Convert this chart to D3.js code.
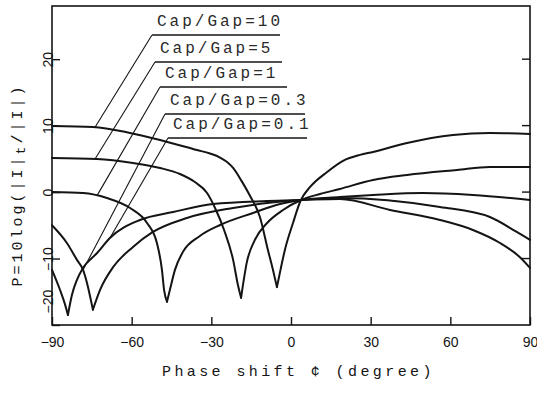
<!DOCTYPE html>
<html>
<head>
<meta charset="utf-8">
<script src="https://cdn.jsdelivr.net/npm/d3@7"></script>
<style>
  html, body { margin: 0; padding: 0; background: #fff; }
  svg { display: block; }
</style>
</head>
<body>
<svg id="chart" width="537" height="393"></svg>
<script>
// Phase shift (degree) axis ticks and level (dB) axis ticks
const phaseTicks = [-90, -60, -30, 0, 30, 60, 90];
const levelTicks = [-20, -10, 0, 10, 20];

// Curve labels, one per capacitance ratio
const ratioLabels = ["Cap/Gap=10", "Cap/Gap=5", "Cap/Gap=1", "Cap/Gap=0.3", "Cap/Gap=0.1"];

// P = 10log(|I|t/|I|) against phase shift, [phase, level]
const ratio10 = [[-90, 9.95], [-74.6, 9.8], [-60.6, 8.9], [-49.3, 7.84], [-35.4, 6.33], [-30.5, 5.8],
  [-26.7, 5.2], [-24.2, 4.55], [-21.8, 3.63], [-18.8, 1.8], [-15.4, -0.6], [-11.7, -3.75], [-8.7, -8.7],
  [-6.8, -11.7], [-5.3, -14.3], [-3.8, -11.4], [-2.3, -8.7], [0.75, -4.65], [3.6, -1.3],
  [7.2, 0.77], [13.6, 3.02], [19.6, 4.7], [26.0, 5.6], [30.9, 6.03], [43.7, 7.39], [61.0, 8.6], [74.9, 8.9], [90, 8.74]];
const ratio5 = [[-90, 5.13], [-73.1, 4.98], [-59.5, 4.38], [-49.3, 3.63], [-41.8, 2.72], [-36.2, 1.51],
  [-31.6, -0.14], [-28.6, -2.39], [-25.2, -5.7], [-21.8, -10.2], [-20.0, -13.95], [-18.8, -15.9],
  [-16.6, -10.5], [-13.6, -7.2], [-9.0, -4.65], [-3.0, -2.69], [3.8, -1.19], [10.9, -0.29],
  [18.4, 0.47], [30.9, 1.82], [43.7, 2.57], [62.5, 3.33], [74.9, 3.78], [90, 3.78]];
const ratio1 = [[-90, 0.02], [-78.3, -0.14], [-69.3, -0.89], [-60.6, -2.39], [-54.2, -4.65], [-50.5, -7.66],
  [-48.6, -11.7], [-47.8, -14.7], [-46.7, -16.5], [-45.6, -14.7], [-43.7, -11.7], [-40.7, -9.0],
  [-34.3, -6.6], [-26.7, -4.95], [-14.3, -3.14], [-4.1, -1.79], [3.8, -1.19], [18.4, -0.74],
  [30.9, -0.44], [49.7, -0.14], [68.5, -0.44], [90, -1.19]];
const ratio03 = [[-90, -5.0], [-84.4, -7.66], [-80.6, -10.2], [-78.3, -11.7], [-76.8, -13.7], [-74.6, -17.7],
  [-71.9, -14.7], [-67.0, -11.3], [-59.5, -8.26], [-52.0, -6.0], [-39.2, -3.9], [-21.8, -2.39],
  [-9.0, -1.64], [3.8, -1.19], [18.4, -0.89], [56.1, -2.24], [74.9, -3.75], [85.0, -6.0], [90, -7.2]];
const ratio01 = [[-90, -11.7], [-87.0, -14.7], [-85.1, -16.9], [-84.0, -18.5], [-82.5, -15.5], [-80.6, -13.2],
  [-78.3, -11.4], [-73.1, -9.2], [-68.2, -6.9], [-56.9, -4.2], [-44.4, -3.0], [-29.4, -1.79],
  [-9.0, -1.34], [3.8, -1.19], [18.4, -1.04], [37.3, -2.69], [56.1, -4.2], [68.5, -5.7],
  [78.7, -7.66], [86.2, -9.8], [90, -11.4]];

// Phase on each curve that its label's leader line points to
const leaderPhase = [-73.8, -73.8, -73.1, -78.3, -68.2];

const series = [ratio10, ratio5, ratio1, ratio03, ratio01];

const svg = d3.select("#chart");
const x = d3.scaleLinear().domain([-90, 90]).range([52, 530]);
const y = d3.scaleLinear().domain([-20, 28]).range([325, 6]);

const ink = "#141414";
const tickFont = "'Liberation Sans Narrow','Liberation Sans',Arial,sans-serif";
const monoFont = "'Liberation Mono','DejaVu Sans Mono',monospace";

// Frame
svg.append("rect")
  .attr("x", x(-90)).attr("y", y(28))
  .attr("width", x(90) - x(-90)).attr("height", y(-20) - y(28))
  .attr("fill", "none").attr("stroke", ink).attr("stroke-width", 1.6);

// Bottom axis (ticks point inward)
const xAxis = d3.axisBottom(x).tickValues(phaseTicks).tickSize(-8).tickPadding(12)
  .tickFormat(d3.format("d"));
const gx = svg.append("g").attr("transform", `translate(0,${y(-20)})`).call(xAxis);
gx.select(".domain").remove();
gx.selectAll(".tick line").attr("stroke", ink).attr("stroke-width", 1.4);
gx.selectAll(".tick text").attr("font-family", tickFont).attr("font-size", 14)
  .attr("fill", ink).text(d => d3.format("d")(d).replace("-", "\u2212"));

// Left axis (ticks inward, labels rotated)
const yAxis = d3.axisLeft(y).tickValues(levelTicks).tickSize(-8).tickFormat(d3.format("d"));
const gy = svg.append("g").attr("transform", `translate(${x(-90)},0)`).call(yAxis);
gy.select(".domain").remove();
gy.selectAll(".tick line").attr("stroke", ink).attr("stroke-width", 1.4);
gy.selectAll(".tick text")
  .attr("font-family", tickFont).attr("font-size", 14).attr("fill", ink)
  .attr("x", null).attr("dy", null)
  .attr("text-anchor", d => d === -20 ? "start" : "middle")
  .attr("transform", d => d === -20 ? "translate(-4,-12) rotate(-90)" : "translate(-4,0) rotate(-90)")
  .attr("dominant-baseline", "central")
  .text(d => d3.format("d")(d).replace("-", "\u2212"));

// Right-side inner ticks
svg.append("g").selectAll("line").data(levelTicks.filter(d => d > -20)).join("line")
  .attr("x1", x(90) - 8).attr("x2", x(90))
  .attr("y1", d => y(d)).attr("y2", d => y(d))
  .attr("stroke", ink).attr("stroke-width", 1.4);

// Curves: each drawn as two branches meeting at the sharp minimum
const line = d3.line().x(d => x(d[0])).y(d => y(d[1])).curve(d3.curveMonotoneX);
const gc = svg.append("g").attr("fill", "none").attr("stroke", ink)
  .attr("stroke-width", 2).attr("stroke-linejoin", "round").attr("stroke-linecap", "round");
series.forEach(s => {
  const iMin = d3.minIndex(s, d => d[1]);
  gc.append("path").attr("d", line(s.slice(0, iMin + 1)));
  gc.append("path").attr("d", line(s.slice(iMin)));
});

// Linear interpolation of a curve at a given phase
function levelAt(s, p) {
  for (let i = 1; i < s.length; i++) {
    if (p <= s[i][0]) {
      const a = s[i - 1], b = s[i];
      const t = (p - a[0]) / (b[0] - a[0]);
      return a[1] + t * (b[1] - a[1]);
    }
  }
  return s[s.length - 1][1];
}

// Label layout: left end and right end of each underline, its height (px)
const noteLayout = [
  { x1: 152, x2: 280, yl: 35 },
  { x1: 155, x2: 282, yl: 62 },
  { x1: 160, x2: 287, yl: 87 },
  { x1: 165, x2: 305, yl: 114 },
  { x1: 168, x2: 307, yl: 138 }
];

const gn = svg.append("g");
ratioLabels.forEach((lab, i) => {
  const L = noteLayout[i];
  const tx = x(leaderPhase[i]), ty = y(levelAt(series[i], leaderPhase[i]));
  gn.append("line").attr("x1", L.x1).attr("y1", L.yl).attr("x2", tx).attr("y2", ty)
    .attr("stroke", ink).attr("stroke-width", 1.1);
  gn.append("line").attr("x1", L.x1).attr("y1", L.yl).attr("x2", L.x2).attr("y2", L.yl)
    .attr("stroke", ink).attr("stroke-width", 1.7);
  gn.append("text").attr("x", L.x1 + 5).attr("y", L.yl - 9)
    .attr("font-family", monoFont).attr("font-size", 16).attr("letter-spacing", 3)
    .attr("fill", "#2a2a2a").text(lab);
});

// Axis titles
svg.append("text").attr("x", 162).attr("y", 376)
  .attr("font-family", monoFont).attr("font-size", 15).attr("letter-spacing", 3.4)
  .attr("fill", ink).text("Phase shift \u00a2 (degree)");

const yt = svg.append("text").attr("transform", "translate(22,185) rotate(-90)")
  .attr("text-anchor", "middle")
  .attr("font-family", monoFont).attr("font-size", 15).attr("letter-spacing", 3)
  .attr("fill", ink);
yt.append("tspan").text("P=10log(|I|");
yt.append("tspan").attr("dy", 3).attr("font-size", 13).text("t");
yt.append("tspan").attr("dy", -3).text("/|I|)");
</script>
</body>
</html>
